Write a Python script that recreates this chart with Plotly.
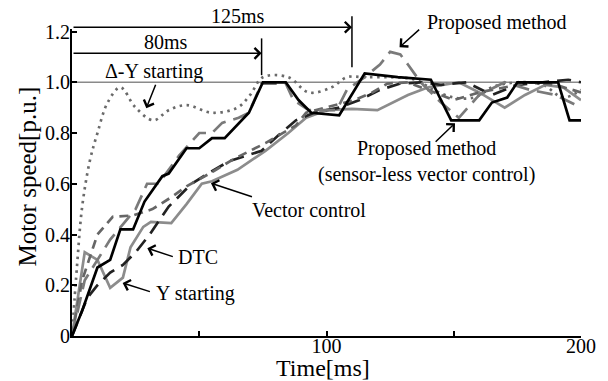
import plotly.graph_objects as go

# ---- data (time in ms, speed in p.u.) ----
dy_t = [0, 2, 4, 7, 10, 14, 19, 25, 32, 38, 45, 55, 65, 70, 75, 85, 93, 102, 108, 115, 125, 135, 142, 150, 158, 165, 175, 185, 193, 200]
dy_v = [0, 0.28, 0.51, 0.69, 0.80, 0.92, 0.98, 0.90, 0.85, 0.89, 0.91, 0.88, 0.90, 0.95, 1.02, 1.02, 0.96, 0.98, 1.02, 1.02, 1.02, 1.01, 0.97, 0.94, 0.94, 0.98, 1.00, 0.99, 0.94, 0.97]

ys_t = [0, 5, 10, 15, 20, 23, 28, 31, 39, 45, 51, 55, 65, 76, 85, 92, 100, 110, 120, 132, 140, 152, 160, 170, 178, 186, 193, 200]
ys_v = [0, 0.33, 0.30, 0.19, 0.23, 0.35, 0.43, 0.45, 0.445, 0.52, 0.60, 0.61, 0.655, 0.73, 0.80, 0.86, 0.89, 0.895, 0.89, 0.95, 0.98, 1.0, 0.96, 0.90, 0.95, 0.99, 0.98, 0.93]

dtc_t = [0, 6, 10, 15, 20, 25, 30.5, 38, 47, 55, 62, 68, 74.5, 81, 88, 95, 105, 113, 121, 129, 137, 145, 155, 165, 175, 185, 195, 200]
dtc_v = [0, 0.15, 0.20, 0.25, 0.28, 0.33, 0.40, 0.51, 0.60, 0.65, 0.69, 0.71, 0.73, 0.79, 0.85, 0.88, 0.90, 0.93, 0.97, 0.995, 1.0, 0.99, 1.0, 0.95, 0.99, 1.0, 1.01, 1.0]

vc_t = [0, 4, 10, 16, 24, 31.6, 39.5, 45, 54, 64, 76, 88, 92, 100, 111, 118, 124, 132, 140, 150, 160, 170, 180, 190, 200]
vc_v = [0, 0.22, 0.40, 0.47, 0.475, 0.50, 0.55, 0.59, 0.64, 0.70, 0.76, 0.83, 0.88, 0.90, 0.93, 0.96, 0.995, 1.0, 0.97, 0.93, 0.96, 0.98, 1.0, 0.99, 0.96]

pm_t = [0, 5, 10, 15, 20, 25, 29.5, 34, 42, 50, 55, 59, 65.5, 69.5, 74.5, 84, 87, 93, 104, 108, 115, 121, 125, 129, 132, 137, 145, 152, 160, 170, 180, 190, 200]
pm_v = [0, 0.22, 0.30, 0.38, 0.44, 0.50, 0.60, 0.60, 0.71, 0.80, 0.80, 0.84, 0.86, 0.88, 0.995, 0.995, 0.93, 0.89, 0.89, 0.97, 1.02, 1.07, 1.12, 1.11, 1.07, 1.0, 0.92, 0.86, 0.95, 1.0, 0.97, 0.95, 0.90]

sl_t = [0, 4, 10, 15, 19, 24, 28.5, 35.5, 38, 45, 50, 55, 60, 69.5, 75, 84, 89, 94, 105, 115, 128, 141, 149, 160, 165, 171, 175, 191, 195.5, 200]
sl_v = [0, 0.10, 0.27, 0.30, 0.42, 0.42, 0.53, 0.63, 0.64, 0.74, 0.74, 0.78, 0.78, 0.88, 1.0, 1.0, 0.93, 0.88, 0.87, 1.035, 1.02, 1.01, 0.85, 0.85, 0.92, 0.94, 1.0, 1.0, 0.85, 0.85]

ref_t = [0, 200]
ref_v = [1.0, 1.0]

x_ticks = [50, 100, 150, 200]
x_ticktext = ["", "100", "", "200"]
y_ticks = [0, 0.2, 0.4, 0.6, 0.8, 1.0, 1.2]
y_ticktext = ["0", "0.2", "0.4", "0.6", "0.8", "1.0", "1.2"]

t_80 = 74.5
t_125 = 110
Y_MAX = 1.21

FONT = "Liberation Serif, DejaVu Serif"

fig = go.Figure()
fig.add_trace(go.Scatter(x=ref_t, y=ref_v, mode="lines", line=dict(color="#8a8a8a", width=1.6)))
fig.add_trace(go.Scatter(x=dy_t, y=dy_v, mode="lines", line=dict(color="#6a6a6a", width=2.7, dash="2.5px,4.5px", shape="spline")))
fig.add_trace(go.Scatter(x=ys_t, y=ys_v, mode="lines", line=dict(color="#8c8c8c", width=2.7)))
fig.add_trace(go.Scatter(x=dtc_t, y=dtc_v, mode="lines", line=dict(color="#222222", width=2.7, dash="14px,8px")))
fig.add_trace(go.Scatter(x=vc_t, y=vc_v, mode="lines", line=dict(color="#666666", width=2.7, dash="9px,6px")))
fig.add_trace(go.Scatter(x=pm_t, y=pm_v, mode="lines", line=dict(color="#7a7a7a", width=2.7, dash="16px,8px")))
fig.add_trace(go.Scatter(x=sl_t, y=sl_v, mode="lines", line=dict(color="#000000", width=2.7)))

ann = []
def txt(x, y, s):
    ann.append(dict(xref="paper", yref="paper", x=x, y=y, text=s, showarrow=False,
                    font=dict(family=FONT, size=20, color="black"), xanchor="center", yanchor="middle"))

def arr(x0, y0, x1, y1):
    ann.append(dict(xref="x", yref="y", axref="x", ayref="y", x=x1, y=y1, ax=x0, ay=y0, text="",
                    showarrow=True, arrowhead=4, arrowsize=1.4, arrowwidth=1.5, arrowcolor="black", standoff=0))

txt(0.162, 0.863, "Δ-Y starting")
txt(0.185, 0.958, "80ms")
txt(0.327, 1.042, "125ms")
txt(0.834, 1.020, "Proposed method")
txt(0.696, 0.567, "Proposed method<br>(sensor-less vector control)")
txt(0.466, 0.410, "Vector control")
txt(0.248, 0.257, "DTC")
txt(0.242, 0.140, "Y starting")

arr(33.1, 0.996, 29.2, 0.898)
arr(142.3, 0.760, 150.5, 0.839)
arr(71.3, 0.547, 54.6, 0.602)
arr(40.2, 0.311, 29.6, 0.346)
arr(31.2, 0.173, 19.9, 0.209)
arr(137.0, 1.213, 128.7, 1.138)

# measurement arrows
ann.append(dict(xref="x", yref="paper", axref="x", ayref="pixel", x=t_80, y=1.114 / Y_MAX, ax=0, ay=0, text="",
                showarrow=True, arrowhead=4, arrowsize=1.4, arrowwidth=1.5, arrowcolor="black", standoff=0))
ann.append(dict(xref="x", yref="paper", axref="x", ayref="pixel", x=t_125, y=1.217 / Y_MAX, ax=0, ay=0, text="",
                showarrow=True, arrowhead=4, arrowsize=1.4, arrowwidth=1.5, arrowcolor="black", standoff=0))

shapes = [
    dict(type="line", xref="x", yref="paper", x0=t_80, x1=t_80, y0=1.028 / Y_MAX, y1=1.173 / Y_MAX,
         line=dict(color="black", width=1.5)),
    dict(type="line", xref="x", yref="paper", x0=t_125, x1=t_125, y0=1.059 / Y_MAX, y1=1.26 / Y_MAX,
         line=dict(color="black", width=1.5)),
]

ann.append(dict(xref="paper", yref="paper", x=-0.088, y=0.52, text="Motor speed[p.u.]", textangle=-90,
                showarrow=False, font=dict(family=FONT, size=25, color="black"), xanchor="center", yanchor="middle"))
ann.append(dict(xref="paper", yref="paper", x=0.493, y=-0.103, text="Time[ms]",
                showarrow=False, font=dict(family=FONT, size=24, color="black"), xanchor="center", yanchor="middle"))

fig.update_layout(
    width=608, height=381,
    margin=dict(l=72, r=23, t=29, b=45),
    paper_bgcolor="white", plot_bgcolor="white",
    showlegend=False,
    annotations=ann, shapes=shapes,
    font=dict(family=FONT, size=20, color="black"),
    xaxis=dict(range=[0, 200], showgrid=False, zeroline=False, showline=True, linecolor="black", linewidth=2.2,
               ticks="inside", ticklen=5, tickwidth=1.5, tickcolor="black", ticklabelstandoff=-9,
               tickvals=x_ticks, ticktext=x_ticktext, tickfont=dict(family=FONT, size=20)),
    yaxis=dict(range=[0, Y_MAX], showgrid=False, zeroline=False, showline=True, linecolor="black", linewidth=2.2,
               ticks="inside", ticklen=5, tickwidth=1.5, tickcolor="black", ticklabelstandoff=-4,
               tickvals=y_ticks, ticktext=y_ticktext, tickfont=dict(family=FONT, size=20)),
)

fig.write_html("out.html")
